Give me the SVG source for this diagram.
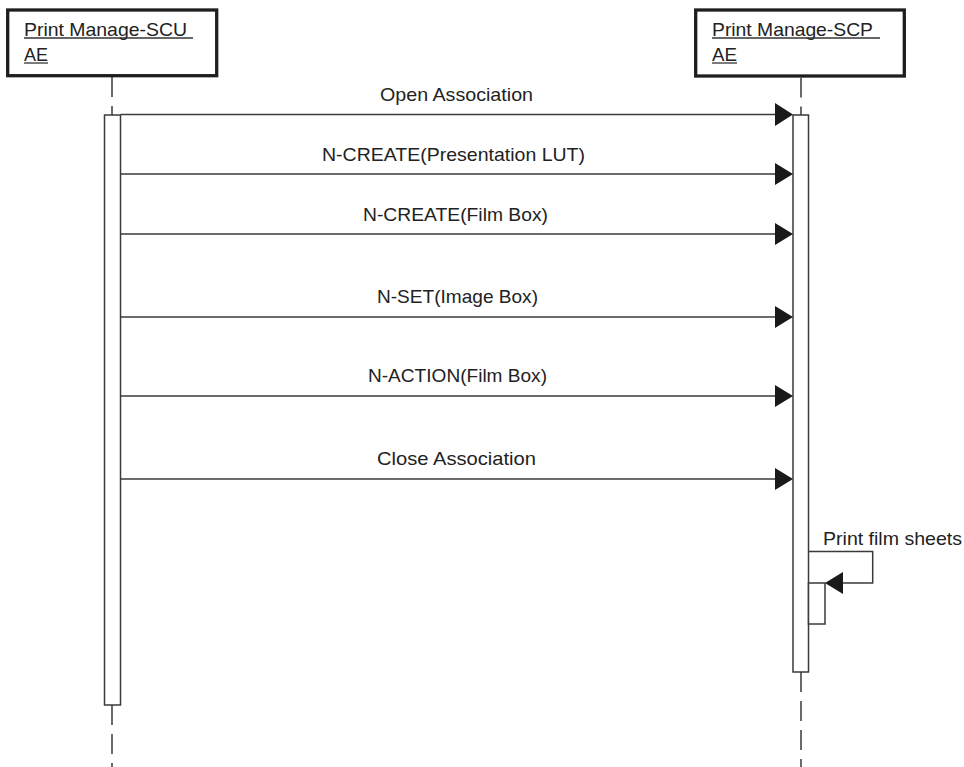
<svg xmlns="http://www.w3.org/2000/svg" width="964" height="767" viewBox="0 0 964 767">
<style>
  text { font-family: "Liberation Sans", Arial, sans-serif; font-size: 18.5px; fill: #222; }
  .actor { fill: #fff; stroke: #1e1e1e; stroke-width: 3.3; }
  .ul { stroke: #333; stroke-width: 1.3; }
  .life { stroke: #3a3a3a; stroke-width: 1.5; stroke-dasharray: 20 9; fill: none; }
  .act { fill: #fff; stroke: #3a3a3a; stroke-width: 1.5; }
  .msg { stroke: #3a3a3a; stroke-width: 1.5; fill: none; }
  .head { fill: #1a1a1a; }
</style>
<rect width="964" height="767" fill="#fff"/>

<g id="scu">
  <rect class="actor" x="7.7" y="10" width="209" height="65.7"/>
  <text x="24" y="36" textLength="163" lengthAdjust="spacingAndGlyphs">Print Manage-SCU</text>
  <line class="ul" x1="24" y1="38" x2="193" y2="38"/>
  <text x="24" y="61" textLength="24" lengthAdjust="spacingAndGlyphs">AE</text>
  <line class="ul" x1="24" y1="63" x2="48" y2="63"/>
</g>

<g id="scp">
  <rect class="actor" x="695.7" y="10" width="208.6" height="66"/>
  <text x="712" y="36" textLength="161" lengthAdjust="spacingAndGlyphs">Print Manage-SCP</text>
  <line class="ul" x1="712" y1="38" x2="880" y2="38"/>
  <text x="712" y="61" textLength="25" lengthAdjust="spacingAndGlyphs">AE</text>
  <line class="ul" x1="712" y1="63" x2="737" y2="63"/>
</g>

<g id="lifelines">
  <line class="life" x1="112" y1="77" x2="112" y2="115"/>
  <line class="life" x1="112" y1="705" x2="112" y2="767"/>
  <line class="life" x1="801" y1="77.5" x2="801" y2="115"/>
  <line class="life" x1="801" y1="672" x2="801" y2="767"/>
</g>

<g id="scu-activation">
  <rect class="act" x="104.5" y="115" width="16" height="590"/>
</g>
<g id="scp-activation">
  <rect class="act" x="793" y="115" width="15.5" height="557"/>
</g>
<g id="scp-nested-activation">
  <rect class="act" x="808.5" y="583" width="16.5" height="41"/>
</g>

<g id="connectors">
  <line class="msg" x1="120.5" y1="114.5" x2="780" y2="114.5"/>
  <polygon class="head" points="775,103 793,114.5 775,126"/>
  <line class="msg" x1="120.5" y1="174" x2="780" y2="174"/>
  <polygon class="head" points="775,163 793,174 775,185"/>
  <line class="msg" x1="120.5" y1="234" x2="780" y2="234"/>
  <polygon class="head" points="775,223 793,234 775,245"/>
  <line class="msg" x1="120.5" y1="317" x2="780" y2="317"/>
  <polygon class="head" points="775,306 793,317 775,328"/>
  <line class="msg" x1="120.5" y1="396" x2="780" y2="396"/>
  <polygon class="head" points="775,385 793,396 775,407"/>
  <line class="msg" x1="120.5" y1="479" x2="780" y2="479"/>
  <polygon class="head" points="775,468 793,479 775,490"/>
  <polyline class="msg" points="808.5,551.5 872.7,551.5 872.7,583 838,583"/>
  <polygon class="head" points="843,572 825,583 843,594"/>
</g>

<g id="labels">
  <text x="380" y="100.5" textLength="153" lengthAdjust="spacingAndGlyphs">Open Association</text>
  <text x="322" y="160.5" textLength="263" lengthAdjust="spacingAndGlyphs">N-CREATE(Presentation LUT)</text>
  <text x="363" y="220.5" textLength="185" lengthAdjust="spacingAndGlyphs">N-CREATE(Film Box)</text>
  <text x="377" y="303" textLength="161" lengthAdjust="spacingAndGlyphs">N-SET(Image Box)</text>
  <text x="368" y="382" textLength="179" lengthAdjust="spacingAndGlyphs">N-ACTION(Film Box)</text>
  <text x="377" y="465" textLength="159" lengthAdjust="spacingAndGlyphs">Close Association</text>
  <text x="823" y="545" textLength="139" lengthAdjust="spacingAndGlyphs">Print film sheets</text>
</g>
</svg>
